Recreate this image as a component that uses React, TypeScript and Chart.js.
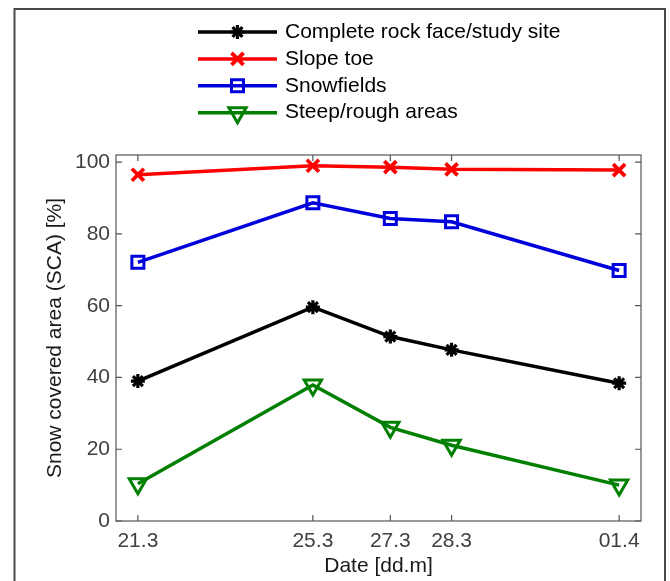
import React, { useEffect, useRef } from "react";
import { Chart, registerables } from "chart.js";
import { drawPoint } from "chart.js/helpers";

Chart.register(...registerables);

const dateLabels = ["21.3", "25.3", "27.3", "28.3", "01.4"];
const dayOffsets = [0, 4, 5.77, 7.17, 11];
const completeSite = [39.0, 59.6, 51.4, 47.7, 38.4];
const slopeToe = [96.5, 99.0, 98.6, 98.0, 97.8];
const snowfields = [72.1, 88.7, 84.3, 83.4, 69.8];
const steepRough = [10.4, 37.9, 26.1, 21.1, 10.0];
const yTicks = [0, 20, 40, 60, 80, 100];

const FONT = "'Liberation Sans', Arial, Helvetica, sans-serif";

const framePlugin = {
  id: "frame",
  beforeDraw(chart: any) {
    const { ctx, width, height } = chart;
    ctx.save();
    ctx.fillStyle = "#ffffff";
    ctx.fillRect(0, 0, width, height);
    ctx.strokeStyle = "#4a4a4a";
    ctx.lineWidth = 2;
    ctx.beginPath();
    ctx.moveTo(14.5, height);
    ctx.lineTo(14.5, 9);
    ctx.lineTo(665, 9);
    ctx.lineTo(665, height);
    ctx.stroke();
    ctx.restore();
  },
};

const boxPlugin = {
  id: "box",
  beforeDatasetsDraw(chart: any) {
    const { ctx, chartArea, scales } = chart;
    const { left, right, top, bottom } = chartArea;
    const x = scales.x;
    const y = scales.y;
    const tl = 6;
    ctx.save();
    ctx.strokeStyle = "#555555";
    ctx.lineWidth = 1.2;
    ctx.strokeRect(left, top, right - left, bottom - top);
    ctx.beginPath();
    x.ticks.forEach((t: any) => {
      const px = x.getPixelForValue(t.value);
      ctx.moveTo(px, bottom);
      ctx.lineTo(px, bottom - tl);
      ctx.moveTo(px, top);
      ctx.lineTo(px, top + tl);
    });
    y.ticks.forEach((t: any) => {
      const py = y.getPixelForValue(t.value);
      ctx.moveTo(left, py);
      ctx.lineTo(left + tl, py);
      ctx.moveTo(right, py);
      ctx.lineTo(right - tl, py);
    });
    ctx.stroke();
    ctx.restore();
  },
};

const legendPlugin = {
  id: "customLegend",
  afterDraw(chart: any) {
    const { ctx } = chart;
    const x0 = 198;
    const x1 = 277;
    const textX = 285;
    const rowStart = 32;
    const rowGap = 26.9;
    ctx.save();
    chart.data.datasets.forEach((ds: any, i: number) => {
      const yy = rowStart + i * rowGap;
      ctx.strokeStyle = ds.borderColor;
      ctx.lineWidth = ds.borderWidth;
      ctx.beginPath();
      ctx.moveTo(x0, yy);
      ctx.lineTo(x1, yy);
      ctx.stroke();
      ctx.fillStyle = ds.pointBackgroundColor;
      ctx.strokeStyle = ds.borderColor;
      ctx.lineWidth = ds.pointBorderWidth;
      drawPoint(
        ctx,
        {
          pointStyle: ds.pointStyle,
          rotation: ds.pointRotation || 0,
          radius: ds.pointRadius,
          borderWidth: ds.pointBorderWidth,
        },
        (x0 + x1) / 2,
        yy
      );
      ctx.fillStyle = "#000000";
      ctx.font = `21px ${FONT}`;
      ctx.textBaseline = "middle";
      ctx.textAlign = "left";
      ctx.fillText(ds.label, textX, yy);
    });
    ctx.restore();
  },
};

function toPoints(vals: number[]) {
  return vals.map((v, i) => ({ x: dayOffsets[i], y: v }));
}

export default function App() {
  const canvasRef = useRef<HTMLCanvasElement | null>(null);

  useEffect(() => {
    document.body.style.margin = "0";
    const canvas = canvasRef.current;
    if (!canvas) return;
    const chart = new Chart(canvas, {
      type: "line",
      data: {
        datasets: [
          {
            label: "Complete rock face/study site",
            data: toPoints(completeSite),
            borderColor: "#000000",
            backgroundColor: "#000000",
            borderWidth: 3.5,
            pointStyle: "star",
            pointRadius: 7,
            pointBorderWidth: 3.2,
            pointBackgroundColor: "#000000",
            pointBorderColor: "#000000",
          },
          {
            label: "Slope toe",
            data: toPoints(slopeToe),
            borderColor: "#ff0000",
            backgroundColor: "#ff0000",
            borderWidth: 3.5,
            pointStyle: "crossRot",
            pointRadius: 8.5,
            pointBorderWidth: 3.8,
            pointBackgroundColor: "#ff0000",
            pointBorderColor: "#ff0000",
          },
          {
            label: "Snowfields",
            data: toPoints(snowfields),
            borderColor: "#0000dd",
            backgroundColor: "rgba(0,0,0,0)",
            borderWidth: 3.5,
            pointStyle: "rect",
            pointRadius: 8.5,
            pointBorderWidth: 3,
            pointBackgroundColor: "rgba(0,0,0,0)",
            pointBorderColor: "#0000dd",
          },
          {
            label: "Steep/rough areas",
            data: toPoints(steepRough),
            borderColor: "#007f00",
            backgroundColor: "rgba(0,0,0,0)",
            borderWidth: 3.5,
            pointStyle: "triangle",
            pointRotation: 180,
            pointRadius: 10,
            pointBorderWidth: 3,
            pointBackgroundColor: "rgba(0,0,0,0)",
            pointBorderColor: "#007f00",
          },
        ] as any,
      },
      options: {
        animation: false,
        responsive: false,
        devicePixelRatio: 1,
        layout: { padding: { top: 155, right: 29, left: 0, bottom: 0 } },
        plugins: {
          legend: { display: false },
          tooltip: { enabled: false },
          title: { display: false },
        },
        elements: { line: { tension: 0 } },
        scales: {
          x: {
            type: "linear",
            min: -0.5,
            max: 11.5,
            grid: { display: false, drawTicks: false },
            border: { display: false },
            afterBuildTicks: (scale: any) => {
              scale.ticks = dayOffsets.map((v) => ({ value: v }));
            },
            afterFit: (scale: any) => {
              scale.height = 60;
            },
            ticks: {
              autoSkip: false,
              maxRotation: 0,
              padding: 8,
              color: "#404040",
              font: { family: FONT, size: 21 },
              callback: (value: any) => {
                const idx = dayOffsets.indexOf(Number(value));
                return idx >= 0 ? dateLabels[idx] : "";
              },
            },
            title: {
              display: true,
              text: "Date [dd.m]",
              color: "#1a1a1a",
              font: { family: FONT, size: 21 },
              padding: { top: 0, bottom: 2 },
            },
          },
          y: {
            type: "linear",
            min: 0,
            max: 102,
            grid: { display: false, drawTicks: false },
            border: { display: false },
            afterBuildTicks: (scale: any) => {
              scale.ticks = yTicks.map((v) => ({ value: v }));
            },
            afterFit: (scale: any) => {
              scale.width = 116;
            },
            ticks: {
              padding: 6,
              color: "#404040",
              font: { family: FONT, size: 21 },
            },
            title: {
              display: true,
              text: "Snow covered area (SCA) [%]",
              color: "#1a1a1a",
              font: { family: FONT, size: 21 },
              padding: { top: 43, bottom: 0 },
            },
          },
        },
      },
      plugins: [framePlugin, boxPlugin, legendPlugin],
    });
    return () => chart.destroy();
  }, []);

  return (
    <div style={{ width: 670, height: 581 }}>
      <canvas ref={canvasRef} width={670} height={581} style={{ display: "block" }} />
    </div>
  );
}
